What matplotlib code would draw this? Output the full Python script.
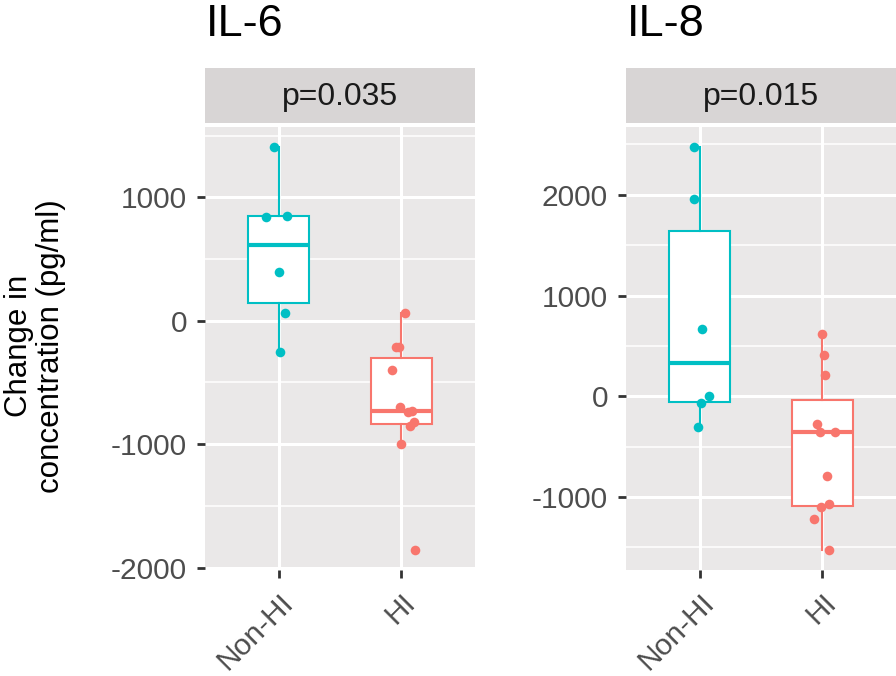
import matplotlib
matplotlib.use("Agg")
import matplotlib.pyplot as plt
import numpy as np

plt.rcParams['font.family'] = ['Liberation Sans', 'DejaVu Sans']

groups = ["Non-HI", "HI"]
titles = ["IL-6", "IL-8"]
pvals = ["p=0.035", "p=0.015"]

il6_nonhi = [1406, 840, 850, 394, 59, -257]
il6_hi = [59, -216, -216, -397, -696, -742, -729, -850, -823, -999, -1857]
il8_nonhi = [2473, 1960, 669, 0, -70, -308]
il8_hi = [616, 407, 206, -278, -357, -350, -787, -1099, -1072, -1218, -1525]

# horizontal jitter offsets (category units)
jit6_nonhi = [-0.04, -0.10, 0.07, 0.0, 0.05, 0.01]
jit6_hi = [0.03, -0.04, -0.02, -0.08, -0.01, 0.05, 0.09, 0.07, 0.10, 0.0, 0.11]
jit8_nonhi = [-0.05, -0.05, 0.02, 0.08, 0.01, -0.01]
jit8_hi = [0.0, 0.01, 0.02, -0.04, -0.02, 0.10, 0.04, -0.01, 0.05, -0.07, 0.05]

yticks6 = [-2000, -1000, 0, 1000]
yticks8 = [-1000, 0, 1000, 2000]
minor6 = [-1500, -500, 500, 1500]
minor8 = [-1500, -500, 500, 1500, 2500]

colors = ["#00BFC4", "#F8766D"]

W, H = 896, 676
fig = plt.figure(figsize=(W / 100, H / 100), dpi=100)

panels = [
    (205, [il6_nonhi, il6_hi], [jit6_nonhi, jit6_hi], yticks6, minor6),
    (626, [il8_nonhi, il8_hi], [jit8_nonhi, jit8_hi], yticks8, minor8),
]

ptop, pbot = 127, 570
pw = 270
for i, (lx, data, jits, yt, mt) in enumerate(panels):
    ax = fig.add_axes([lx / W, (H - pbot) / H, pw / W, (pbot - ptop) / H])
    ax.set_facecolor("#EAE8E8")
    for s in ax.spines.values():
        s.set_visible(False)
    for k, (d, j) in enumerate(zip(data, jits)):
        c = colors[k]
        ax.boxplot([d], positions=[k + 1], widths=0.5, whis=1.5, showfliers=False,
                   showcaps=False, patch_artist=True, manage_ticks=False,
                   boxprops=dict(facecolor="white", edgecolor=c, linewidth=1.5),
                   whiskerprops=dict(color=c, linewidth=1.5),
                   medianprops=dict(color=c, linewidth=3), zorder=2)
        xs = np.array(j) + k + 1
        ax.scatter(xs, d, s=48, color=c, zorder=3, linewidths=0)
    allv = np.concatenate([np.array(d, float) for d in data])
    lo, hi = allv.min(), allv.max()
    r = hi - lo
    ax.set_ylim(lo - 0.05 * r, hi + 0.05 * r)
    ax.set_xlim(0.4, 2.6)
    ax.set_yticks(yt)
    ax.set_yticklabels([str(v) for v in yt])
    ax.set_yticks(mt, minor=True)
    ax.set_xticks([1, 2])
    ax.set_xticklabels(groups)
    ax.grid(True, which="major", color="white", linewidth=2.2, zorder=0)
    ax.grid(True, which="minor", axis="y", color="white", linewidth=1.1, zorder=0)
    ax.set_axisbelow(True)
    ax.tick_params(axis="both", which="major", length=6, width=2, color="#333333",
                   labelsize=21.5, labelcolor="#4D4D4D", pad=7)
    ax.tick_params(axis="y", which="minor", length=0)
    for lbl in ax.get_xticklabels():
        lbl.set_rotation(45)
        lbl.set_ha("right")
        lbl.set_va("top")
        lbl.set_rotation_mode("anchor")

    # strip
    sax = fig.add_axes([lx / W, (H - 123) / H, pw / W, 55 / H])
    sax.set_facecolor("#D8D5D5")
    sax.set_xticks([])
    sax.set_yticks([])
    for s in sax.spines.values():
        s.set_visible(False)
    sax.text(0.5, 0.47, pvals[i], ha="center", va="center", fontsize=23,
             color="#1A1A1A", transform=sax.transAxes)

    fig.text((lx + 1) / W, (H - 36) / H, titles[i], ha="left", va="baseline",
             fontsize=32.5, color="black")

fig.text(35 / W, (H - 346) / H, "Change in\nconcentration (pg/ml)", rotation=90,
         ha="center", va="center", multialignment="center", fontsize=22.5,
         color="black", linespacing=1.05)

fig.savefig("out.png", dpi=100, facecolor="white")
